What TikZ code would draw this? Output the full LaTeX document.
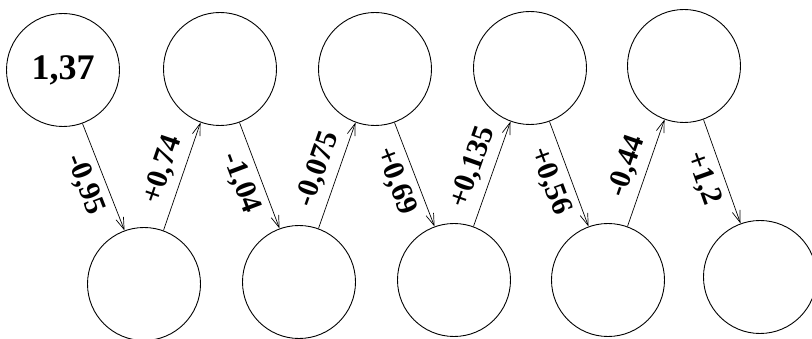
\documentclass[tikz,border=0pt]{standalone}
\usepackage{fontspec}
\setmainfont{Liberation Serif}
\usetikzlibrary{arrows.meta}

\begin{document}
\begin{tikzpicture}[x=1pt, y=1pt]
    % --- estilos ---
    \tikzstyle{bola} = [
        circle,
        draw=black,
        line width=0.9pt,
        minimum size=113pt,
        inner sep=0pt,
        font=\fontsize{36}{36}\selectfont\bfseries
    ]
    \tikzstyle{seta} = [line width=0.7pt, -{Straight Barb[length=12pt, width=8pt]}]
    \tikzstyle{desce} = [midway, sloped, below=4pt, font=\fontsize{30}{30}\selectfont\bfseries]
    \tikzstyle{sobe} = [midway, sloped, above=4pt, font=\fontsize{30}{30}\selectfont\bfseries]

    \useasboundingbox (0,0) rectangle (812,-339);

    % --- linha de cima ---
    \node (t1) [bola] at (63,-70) {1,37};
    \node (t2) [bola] at (220,-69) {};
    \node (t3) [bola] at (375,-69) {};
    \node (t4) [bola] at (530,-68) {};
    \node (t5) [bola] at (684,-66) {};

    % --- linha de baixo ---
    \node (b1) [bola] at (144,-284) {};
    \node (b2) [bola] at (299,-282) {};
    \node (b3) [bola] at (454,-280) {};
    \node (b4) [bola] at (608,-280) {};
    \node (b5) [bola] at (760,-277) {};

    % --- setas ---
    \draw [seta] (t1.-70) -- node[desce] {-0,95} (b1.110);
    \draw [seta] (b1.70) -- node[sobe] {+0,74} (t2.-110);
    \draw [seta] (t2.-70) -- node[desce] {-1,04} (b2.110);
    \draw [seta] (b2.70) -- node[sobe] {-0,075} (t3.-110);
    \draw [seta] (t3.-70) -- node[desce] {+0,69} (b3.110);
    \draw [seta] (b3.70) -- node[sobe] {+0,135} (t4.-110);
    \draw [seta] (t4.-70) -- node[desce] {+0,56} (b4.110);
    \draw [seta] (b4.70) -- node[sobe] {-0,44} (t5.-110);
    \draw [seta] (t5.-70) -- node[desce] {+1,2} (b5.110);
\end{tikzpicture}
\end{document}
